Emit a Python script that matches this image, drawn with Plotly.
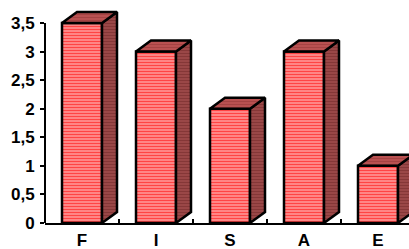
import plotly.graph_objects as go

categories = ["F", "I", "S", "A", "E"]
values = [3.5, 3, 2, 3, 1]
y_ticks = [0, 0.5, 1, 1.5, 2, 2.5, 3, 3.5]

W, H = 409, 249
ML, MR, MT, MB = 45, 0, 10, 26
band_px = 74.0
unit_px = 57.14
x0 = -0.5
x1 = x0 + (W - ML - MR) / band_px
y1 = (H - MT - MB) / unit_px

bw = 40 / band_px
dx = 15 / band_px
dy = 11 / unit_px
xs = list(range(len(categories)))
LW = 2.5

def fmt(v):
    s = ("%g" % v).replace(".", ",")
    return "<b>" + s + "</b>"

fig = go.Figure()
fig.add_trace(go.Bar(
    x=xs, y=values, width=bw,
    marker=dict(color="#FF9A9A", line=dict(color="black", width=LW),
                pattern=dict(shape="-", bgcolor="#FF9A9A", fgcolor="#FF4444",
                             size=3, solidity=0.5, fillmode="replace")),
    hoverinfo="skip", showlegend=False))

sx, sy, tx, ty = [], [], [], []
for i, v in zip(xs, values):
    r = i + bw / 2
    l = i - bw / 2
    sx += [r, r + dx, r + dx, r, r, None]
    sy += [0, dy, v + dy, v, 0, None]
    tx += [l, r, r + dx, l + dx, l, None]
    ty += [v, v, v + dy, v + dy, v, None]

fig.add_trace(go.Scatter(
    x=sx, y=sy, mode="lines", fill="toself", fillcolor="#9C4545",
    fillpattern=dict(shape="-", bgcolor="#A04C4C", fgcolor="#6A2222", size=3, solidity=0.5),
    line=dict(color="black", width=LW), cliponaxis=False,
    hoverinfo="skip", showlegend=False))
fig.add_trace(go.Scatter(
    x=tx, y=ty, mode="lines", fill="toself", fillcolor="#B85050",
    fillpattern=dict(shape="-", bgcolor="#C05656", fgcolor="#8A3030", size=3, solidity=0.5),
    line=dict(color="black", width=LW), cliponaxis=False,
    hoverinfo="skip", showlegend=False))

fig.add_shape(type="line", xref="paper", yref="y", x0=0, x1=0, y0=0, y1=max(y_ticks),
              line=dict(color="black", width=2))

tick_font = dict(family="Liberation Sans, Arial", size=17, color="black")

fig.update_layout(
    width=W, height=H,
    margin=dict(l=ML, r=MR, t=MT, b=MB, autoexpand=False),
    paper_bgcolor="white", plot_bgcolor="white",
    font=tick_font,
    xaxis=dict(range=[x0, x1], tickvals=xs, ticktext=["<b>%s</b>" % c for c in categories],
               ticks="", tickfont=tick_font,
               showgrid=False, zeroline=False, showline=True, linecolor="black", linewidth=2,
               ticklabelstandoff=1,
               minor=dict(ticks="inside", tick0=0.5, dtick=1, ticklen=4, tickwidth=2,
                          tickcolor="black", showgrid=False)),
    yaxis=dict(range=[0, y1], tickvals=y_ticks, ticktext=[fmt(v) for v in y_ticks],
               ticks="outside", ticklen=4, tickwidth=2,
               tickfont=tick_font, ticklabelstandoff=2,
               tickcolor="black", showgrid=False, zeroline=False, showline=False),
)

fig.write_html("out.html", config={"displayModeBar": False},
               post_script="document.body.style.margin='0';")
